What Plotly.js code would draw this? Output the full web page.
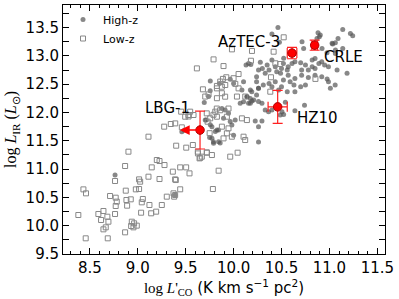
<!DOCTYPE html>
<html><head><meta charset="utf-8">
<script src="https://cdn.plot.ly/plotly-3.0.1.min.js"></script>
<style>html,body{margin:0;padding:0;background:#fff}#c{width:399px;height:299px}</style>
</head><body><div id="c"></div>
<script>
// High-z sample (log L'CO, log LIR)
const highX = [10.463,10.400,10.714,10.731,10.881,10.895,10.870,10.905,11.139,11.219,11.243,11.090,11.034,11.062,11.139,10.923,10.975,11.062,
10.82,10.85,10.89,10.92,10.95,10.99,10.82,10.85,10.75,10.78,10.71,10.70,10.64,10.61,10.57,10.52,10.50,10.56,10.45,10.49,10.435,
10.35,10.30,10.37,10.33,10.26,10.24,10.71,10.78,10.64,10.57,10.52,10.59,10.63,10.85,10.92,10.99,11.06,11.01,11.184,11.08,
10.435,10.37,10.40,10.31,10.26,10.24,10.47,10.50,10.70,10.75,10.56,10.64,10.976,11.063,11.028,10.478,10.279,10.40,10.523,
10.175,10.26,10.21,10.26,10.175,10.14,9.757,9.694,9.739,9.704,9.757,9.774,9.791,9.809,
10.139,10.174,10.104,10.156,10.191,10.069,10.296,10.33,10.365,10.40,10.505,10.522,10.487,10.54,10.64,10.74,10.226,10.296,10.26,
9.843,9.965,10.017,9.982,9.895,10.0,9.86,10.26,9.878,9.947,9.912,
9.774,9.75,9.826,9.79,9.843,9.46,9.485,9.715,8.763,9.390,
9.756,9.853,9.965,10.00,10.13,10.156,10.18,10.087,10.19,10.24,10.104];
const highY = [13.504,13.387,13.251,13.133,13.410,13.340,13.310,13.369,13.469,13.398,13.357,13.310,13.210,13.233,13.133,13.133,13.057,13.045,
12.927,12.956,12.868,12.898,12.839,12.81,12.81,12.78,12.839,12.75,12.75,12.88,12.898,12.868,12.81,12.868,12.78,12.75,12.72,12.692,12.81,
12.839,12.78,12.75,12.692,12.75,12.633,12.66,12.62,12.603,12.66,12.574,12.544,12.486,12.66,12.633,12.544,12.486,12.427,12.692,12.75,
12.544,12.515,12.456,12.486,12.427,12.544,12.397,12.456,12.456,12.486,12.368,12.368,12.594,13.106,13.223,13.241,12.888,12.93,12.958,
12.4,12.43,12.223,12.194,12.164,12.282,12.559,12.176,12.282,11.87,11.782,11.547,11.459,11.664,
12.28,12.25,12.19,12.162,12.203,12.162,12.162,12.044,12.015,12.044,12.015,11.967,11.956,12.18,12.03,12.13,11.85,11.85,11.75,
11.69,11.84,11.87,11.78,11.90,11.60,11.46,11.48,12.07,11.985,12.044,
11.75,11.56,11.69,11.484,11.484,11.661,11.685,11.867,10.896,10.543,
12.386,12.515,12.586,12.515,12.84,12.868,12.85,12.397,12.368,12.31,12.544];

// Low-z sample
const lowX = [8.763,8.433,8.460,8.380,8.457,8.589,8.642,8.617,8.683,8.694,8.666,8.642,8.687,8.711,8.770,8.781,8.770,8.763,8.875,8.882,8.927,8.889,8.868,8.938,8.962,8.931,8.955,8.990,8.980,9.014,9.025,9.014,9.112,9.227,9.053,9.042,9.035,9.122,9.140,9.192,9.251,9.303,
8.903,9.199,9.227,9.279,9.146,9.443,9.505,9.366,9.540,9.390,9.443,9.373,9.380,9.627,9.645,
9.397,9.784,9.390,9.669,9.722,9.774,9.965,10.042,9.844,
9.276,9.345,9.391,9.112,9.401,9.506,9.575,8.868,9.53,9.547,9.72,9.756,9.729,9.809,9.826,9.628,9.652,9.72,
9.617,9.453,9.495,9.53,9.582,9.46,
9.791,9.895,9.983,10.052,10.181,9.739,9.826,9.878,9.913,10.052,
10.523,10.192,10.854,9.889,9.924,9.861,9.826,10.0,10.018,9.68,9.704,9.826,9.878,10.122,10.035,9.75,9.79,10.436,10.39,
9.912,9.825,9.86,9.947,9.93,10.087,10.139,9.878,9.947,9.93,9.895,9.982,10.104,10.121,
10.418,10.487,10.383];
const lowY = [10.790,10.642,10.572,10.189,9.777,10.207,10.260,10.101,10.159,10.071,9.971,9.936,9.777,10.525,10.495,10.425,10.348,10.207,10.619,10.454,10.466,10.354,9.883,10.071,10.042,9.995,9.971,10.001,10.642,10.648,10.778,10.819,10.866,10.825,10.472,10.413,10.230,10.366,10.219,10.248,10.366,10.513,
11.308,11.161,11.143,11.072,11.031,11.031,11.031,10.955,10.925,10.819,10.643,10.572,10.513,11.308,11.19,
10.807,10.648,10.542,11.22,11.29,11.249,11.22,11.29,10.972,
11.750,11.797,11.808,11.573,11.414,11.379,11.426,11.055,11.93,12.015,11.985,11.897,11.838,12.015,11.926,11.278,11.2,11.296,
12.780,12.015,11.926,11.956,11.956,11.738,
12.939,12.821,13.116,12.680,12.915,12.321,12.427,12.456,12.486,12.427,
13.329,13.088,12.594,12.594,12.623,12.547,12.47,12.606,12.506,12.41,12.282,12.253,12.341,12.282,12.282,11.635,11.96,12.87,12.623,
12.28,12.07,12.04,12.07,11.926,11.897,11.867,11.75,11.72,11.632,11.543,11.573,11.573,11.514,
13.075,12.857,12.368];

// Highlighted sources
const srcNames = ["AzTEC-3","CRLE","HZ10","LBG-1"];
const srcX = [10.61, 10.846, 10.46, 9.65];
const srcY = [13.05, 13.19, 12.10, 11.69];
const srcXerr = [0.05, 0.03, 0.10, 0];
const srcYerr = [0.10, 0.09, 0.29, 0.335];
const limitTo = 9.44; // LBG-1 upper limit arrow head on log L'CO

const traces = [
  {type:'scatter', mode:'markers', name:'High-z', x:highX, y:highY,
   marker:{symbol:'circle', size:5, color:'rgba(85,85,85,0.7)', line:{width:0}}},
  {type:'scatter', mode:'markers', name:'Low-z', x:lowX, y:lowY,
   marker:{symbol:'square-open', size:5, color:'#888', line:{width:1, color:'#888'}}},
  {type:'scatter', mode:'markers', showlegend:false, x:srcX, y:srcY, text:srcNames,
   marker:{symbol:'circle', size:8.5, color:'#ff0000', line:{width:1, color:'#b00000'}},
   error_x:{type:'data', array:srcXerr, visible:true, color:'#ff2020', thickness:1.2, width:5},
   error_y:{type:'data', array:srcYerr, visible:true, color:'#ff2020', thickness:1.2, width:5}}
];

const lblFont = {family:'DejaVu Sans', size:15, color:'#000'};
const annotations = [
  {x:10.164, y:13.245, text:srcNames[0], showarrow:false, font:lblFont},
  {x:11.146, y:12.98, text:srcNames[1], showarrow:false, font:lblFont},
  {x:10.874, y:11.903, text:srcNames[2], showarrow:false, font:lblFont},
  {x:9.312, y:12.08, text:srcNames[3], showarrow:false, font:lblFont},
  {x:limitTo, y:srcY[3], ax:srcX[3], ay:srcY[3], axref:'x', ayref:'y', xref:'x', yref:'y',
   text:'', showarrow:true, arrowhead:2, arrowsize:1.3, arrowwidth:1.5, arrowcolor:'#ff0000'}
];

const axisCommon = {showline:true, linecolor:'#000', linewidth:1, mirror:'allticks', ticks:'inside',
  tickcolor:'#000', ticklen:6, tickwidth:1, showgrid:false, zeroline:false,
  tickfont:{family:'DejaVu Sans', size:15, color:'#000'}};

const layout = {
  width:399, height:299, margin:{l:63, r:14, t:5, b:45},
  paper_bgcolor:'#fff', plot_bgcolor:'#fff',
  showlegend:true,
  legend:{x:0, y:1, xanchor:'left', yanchor:'top', bgcolor:'rgba(0,0,0,0)', borderwidth:0,
    font:{family:'DejaVu Sans', size:11, color:'#000'}, tracegroupgap:0},
  xaxis:Object.assign({}, axisCommon, {range:[8.22, 11.58], tick0:8.5, dtick:0.5, tickformat:'.1f',
    minor:{dtick:0.1, ticks:'inside', ticklen:3, tickcolor:'#000', tickwidth:1},
    title:{text:"<span style='font-family:Liberation Serif'>log <i>L</i>'<sub>CO</sub></span> (K km s<sup>−1</sup> pc<sup>2</sup>)",
      font:{family:'DejaVu Sans', size:15, color:'#000'}, standoff:6}}),
  yaxis:Object.assign({}, axisCommon, {range:[9.5, 13.9], tick0:9.5, dtick:0.5, tickformat:'.1f',
    minor:{dtick:0.25, ticks:'inside', ticklen:6, tickcolor:'#000', tickwidth:1},
    title:{text:"log <i>L</i><sub>IR</sub> (<i>L</i><sub>⊙</sub>)",
      font:{family:'Liberation Serif', size:16, color:'#000'}, standoff:4}}),
  annotations:annotations
};

Plotly.newPlot('c', traces, layout, {displayModeBar:false, staticPlot:true});
</script>
</body></html>
